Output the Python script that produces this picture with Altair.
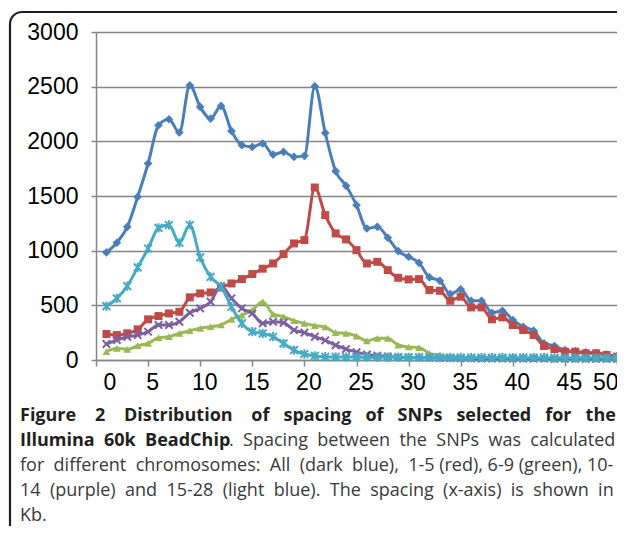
import altair as alt
import pandas as pd

# ---------------- data ----------------
spacing_kb = list(range(1, 51))
series_names = ["All", "1-5", "6-9", "10-14", "15-28"]

all_chr = [984, 1072, 1218, 1492, 1797, 2147, 2202, 2081, 2513, 2315,
           2208, 2324, 2095, 1965, 1949, 1980, 1879, 1903, 1858, 1867,
           2504, 2077, 1727, 1593, 1416, 1203, 1218, 1118, 996, 944,
           889, 756, 725, 603, 646, 542, 542, 432, 450, 366,
           304, 268, 152, 128, 90, 80, 70, 65, 50, 35]
chr_1_5 = [238, 228, 244, 280, 372, 402, 426, 441, 573, 609,
           618, 664, 700, 740, 786, 835, 883, 969, 1066, 1097,
           1578, 1325, 1158, 1103, 1005, 883, 898, 822, 752, 737,
           740, 640, 633, 542, 579, 481, 481, 372, 390, 320,
           274, 228, 128, 100, 76, 76, 61, 61, 46, 30]
chr_6_9 = [76, 107, 98, 131, 152, 204, 213, 244, 268, 290,
           304, 320, 372, 411, 457, 533, 420, 396, 359, 335,
           315, 302, 250, 244, 219, 175, 198, 198, 137, 119,
           114, 61, 46, 32, 25, 20, 18, 16, 15, 14,
           13, 12, 12, 11, 11, 10, 10, 10, 9, 9]
chr_10_14 = [146, 183, 213, 228, 259, 320, 320, 350, 432, 472,
             533, 676, 564, 472, 426, 335, 350, 341, 274, 250,
             213, 180, 135, 100, 72, 50, 40, 33, 28, 25,
             22, 20, 18, 17, 16, 15, 14, 14, 13, 13,
             12, 12, 12, 11, 11, 11, 10, 10, 10, 10]
chr_15_28 = [493, 564, 676, 847, 1020, 1209, 1235, 1072, 1235, 938,
             761, 670, 487, 335, 259, 244, 213, 152, 91, 55,
             37, 30, 28, 27, 26, 26, 25, 25, 25, 24,
             24, 24, 23, 23, 23, 22, 22, 22, 22, 21,
             21, 21, 21, 20, 20, 20, 20, 20, 19, 19]

series_values = [all_chr, chr_1_5, chr_6_9, chr_10_14, chr_15_28]
series_colors = ["#4A7EBB", "#BE4B48", "#98B954", "#7D60A0", "#46AAC5"]

x_tick_values = list(range(0, 51, 5))
y_tick_values = list(range(0, 3001, 500))

caption_line1 = "Figure 2 Distribution of spacing of SNPs selected for the"
caption_line2_bold = "Illumina 60k BeadChip"
caption_line2_rest = ". Spacing between the SNPs was calculated"
caption_line3 = "for different chromosomes: All (dark blue), 1-5 (red), 6-9 (green), 10-"
caption_line4 = "14 (purple) and 15-28 (light blue). The spacing (x-axis) is shown in"
caption_line5 = "Kb."

# ---------------- table ----------------
rows = []
for name, vals in zip(series_names, series_values):
    for xv, yv in zip(spacing_kb, vals):
        rows.append({"spacing": xv, "count": yv, "series": name})
df = pd.DataFrame(rows)
one = pd.DataFrame({"k": [0]})

AXIS_GRAY = "#868686"
TICK_FONT = "Liberation Sans"
CAP_FONT = "Open Sans"
CAP_BOLD_COLOR = "#231f20"
CAP_COLOR = "#3a3a3a"
CAP_SIZE = 18
NB = "\u00a0"


def justify(text, extras):
    """Widen word gaps with non-breaking spaces (imitates justified text)."""
    words = text.split(" ")
    out = words[0]
    for i, w in enumerate(words[1:]):
        n = extras[i] if i < len(extras) else 0
        out += " " + NB * n + w
    return out


x_enc = alt.X(
    "spacing:Q",
    scale=alt.Scale(domain=[0, 50], nice=False, zero=False),
    axis=alt.Axis(values=x_tick_values, title=None, grid=False, tickSize=6,
                  tickColor=AXIS_GRAY, tickWidth=1.5, domainColor=AXIS_GRAY,
                  domainWidth=1.5, labelFont=TICK_FONT, labelFontSize=23,
                  labelColor="black", labelPadding=5, labelFlush=True,
                  labelFlushOffset=-3, labelOffset=4),
)
y_enc = alt.Y(
    "count:Q",
    scale=alt.Scale(domain=[0, 3000], nice=False),
    axis=alt.Axis(values=y_tick_values, title=None, grid=True, format="d",
                  gridColor=AXIS_GRAY, gridWidth=1.5, tickSize=5,
                  tickColor=AXIS_GRAY, tickWidth=1.5, domainColor=AXIS_GRAY,
                  domainWidth=1.5, labelFont=TICK_FONT, labelFontSize=23,
                  labelColor="black", labelPadding=13, labelFlush=False),
)

X_PATH = "M-1,-1L1,1M1,-1L-1,1"
STAR_PATH = "M-1,-1L1,1M1,-1L-1,1M0,-1.2L0,1.2"
marker_specs = [
    dict(shape="diamond", filled=True, size=75),
    dict(shape="square", filled=True, size=64),
    dict(shape="triangle-up", filled=True, size=60),
    dict(shape=X_PATH, filled=False, size=55, strokeWidth=2),
    dict(shape=STAR_PATH, filled=False, size=60, strokeWidth=2),
]

base = alt.Chart(df)
layers = []

# border of the figure panel
layers.append(
    alt.Chart(one).mark_rect(filled=False, color=CAP_BOLD_COLOR, strokeWidth=2.2,
                             cornerRadius=12).encode(
        x=alt.value(-86), x2=alt.value(700), y=alt.value(-20), y2=alt.value(700))
)

for name, col, ms in zip(series_names, series_colors, marker_specs):
    sub = base.transform_filter(alt.datum.series == name)
    layers.append(
        sub.mark_line(color=col, strokeWidth=3, interpolate="monotone").encode(
            x=x_enc, y=y_enc)
    )
    layers.append(
        sub.mark_point(color=col, opacity=1, **ms).encode(x=x_enc, y=y_enc)
    )


def cap(text, x, y, bold=False, align="left"):
    kw = dict(text=text, align=align, baseline="alphabetic", font=CAP_FONT,
              fontSize=CAP_SIZE, color=CAP_BOLD_COLOR if bold else CAP_COLOR)
    if bold:
        kw["fontWeight"] = "bold"
    return alt.Chart(one).mark_text(**kw).encode(x=alt.value(x), y=alt.value(y))


CX = -76  # caption left edge relative to plot area
layers += [
    cap(justify(caption_line1, [3, 3, 3, 2, 2, 2, 2, 2, 2]), CX, 389, bold=True),
    cap(justify(caption_line2_bold, [1, 1]), CX, 414, bold=True),
    cap(justify(caption_line2_rest, [1, 1, 1, 1, 1, 1]), 133, 414),
    cap(justify(caption_line3, [1, 1, 1, 1, 1, 1]), CX, 439),
    cap(justify(caption_line4, [1] * 11), CX, 464),
    cap(caption_line5, CX, 489),
]

chart = alt.layer(*layers).properties(
    width=521, height=328,
    autosize=alt.AutoSizeParams(type="none"),
    padding={"left": 88, "top": 24, "right": 0, "bottom": 166},
    background="white",
).configure_view(strokeWidth=0)

chart.save("out.html", embed_options={"renderer": "svg", "actions": False})
